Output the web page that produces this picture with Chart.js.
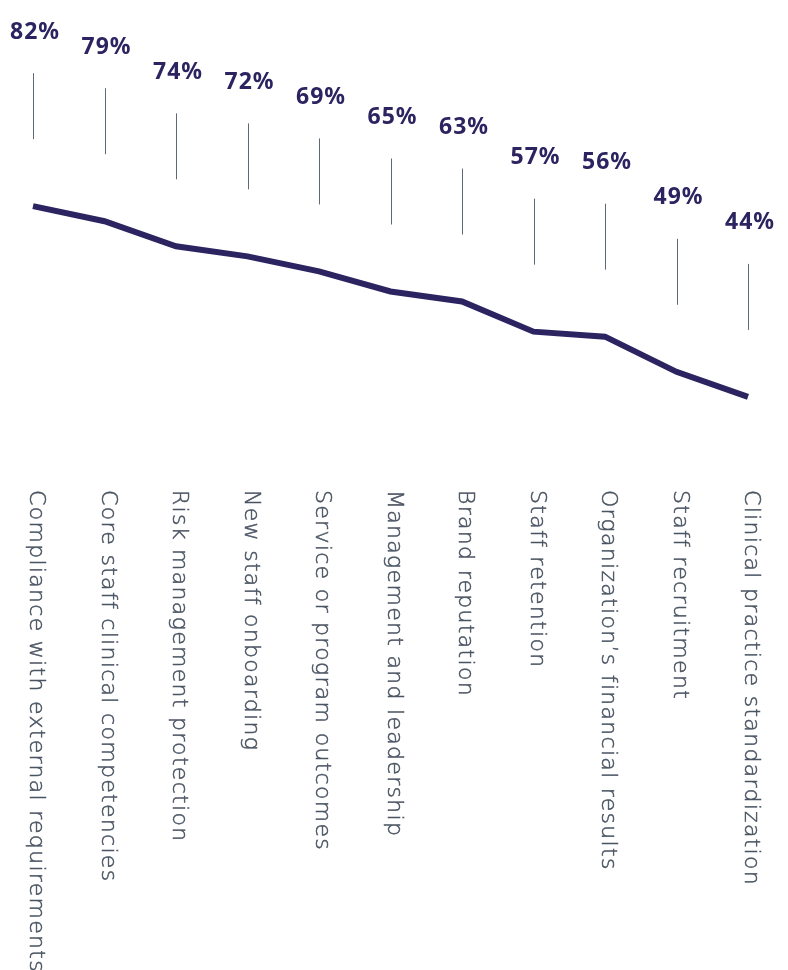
<!DOCTYPE html>
<html>
<head>
<meta charset="utf-8">
<script src="https://cdn.jsdelivr.net/npm/chart.js@4"></script>
<style>
  body { margin: 0; background: #fff; }
  #wrap { width: 788px; height: 970px; }
</style>
</head>
<body>
<div id="wrap"><canvas id="myChart" width="788" height="970"></canvas></div>
<script>
// survey results, share of respondents (%)
var categories = [
    'Compliance with external requirements',
    'Core staff clinical competencies',
    'Risk management protection',
    'New staff onboarding',
    'Service or program outcomes',
    'Management and leadership',
    'Brand reputation',
    'Staff retention',
    'Organization\u2019s financial results',
    'Staff recruitment',
    'Clinical practice standardization'
];
var values = [82, 79, 74, 72, 69, 65, 63, 57, 56, 49, 44];

var navy = '#2b2460';
var slate = '#4a5462';

// value labels, thin guide lines and vertical category names
const calloutPlugin = {
    id: 'callouts',
    afterDatasetsDraw(chart) {
        const ctx = chart.ctx;
        const points = chart.getDatasetMeta(0).data;
        ctx.save();
        points.forEach(function (pt, i) {
            // guide line above each point
            ctx.strokeStyle = '#5f6975';
            ctx.lineWidth = 1;
            ctx.beginPath();
            ctx.moveTo(Math.round(pt.x) + 0.5, pt.y - 133);
            ctx.lineTo(Math.round(pt.x) + 0.5, pt.y - 67);
            ctx.stroke();

            // percentage
            ctx.fillStyle = navy;
            ctx.font = '700 23px "Noto Sans"';
            ctx.letterSpacing = '1px';
            ctx.textAlign = 'center';
            ctx.textBaseline = 'middle';
            ctx.fillText(values[i] + '%', pt.x + 2, pt.y - 174);

            // category name, reading top to bottom
            ctx.save();
            ctx.translate(pt.x + 3, 490);
            ctx.rotate(Math.PI / 2);
            ctx.fillStyle = slate;
            ctx.strokeStyle = slate;
            ctx.lineWidth = 0.5;
            ctx.font = '200 22px "DejaVu Sans"';
            ctx.letterSpacing = '1.3px';
            ctx.textAlign = 'left';
            ctx.textBaseline = 'middle';
            ctx.fillText(categories[i], 0, 0);
            ctx.strokeText(categories[i], 0, 0);
            ctx.restore();
        });
        ctx.restore();
    }
};

const ctx = document.getElementById('myChart').getContext('2d');
const myChart = new Chart(ctx, {
    type: 'line',
    data: {
        labels: categories,
        datasets: [{
            data: values,
            borderColor: navy,
            borderWidth: 6,
            borderJoinStyle: 'miter',
            pointRadius: 0,
            tension: 0,
            clip: false
        }]
    },
    options: {
        responsive: false,
        animation: false,
        layout: {
            padding: { left: 33, right: 40, top: 166, bottom: 553 }
        },
        plugins: {
            legend: { display: false },
            tooltip: { enabled: false }
        },
        scales: {
            x: { display: false, offset: false },
            y: { display: false, min: 40, max: 90 }
        }
    },
    plugins: [calloutPlugin]
});
</script>
</body>
</html>
